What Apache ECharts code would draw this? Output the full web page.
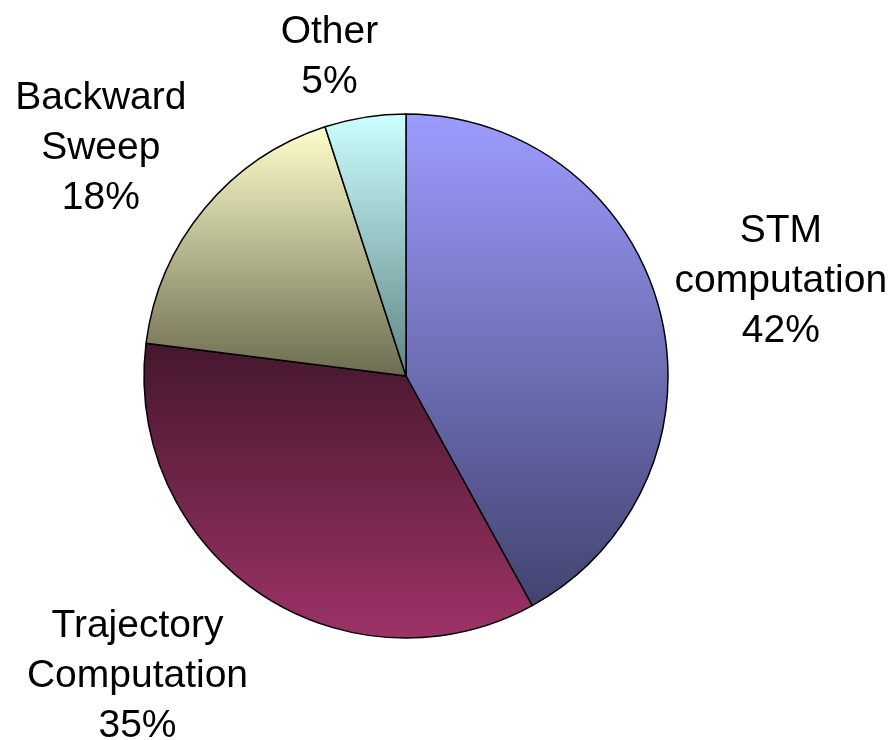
<!DOCTYPE html>
<html>
<head>
<meta charset="utf-8">
<script src="https://cdn.jsdelivr.net/npm/echarts@6/dist/echarts.min.js"></script>
<style>
  html, body { margin: 0; padding: 0; background: #fff; }
  #chart { width: 891px; height: 740px; }
</style>
</head>
<body>
<div id="chart"></div>
<script>
// Share of run time per phase (percent)
const categories = ['STM\ncomputation', 'Trajectory\nComputation', 'Backward\nSweep', 'Other'];
const shares = [42, 35, 18, 5];

// Vertical gradient per slice: [top colour, bottom colour]
const sliceColors = [
  ['#9C9CFF', '#42436F'],
  ['#45172D', '#9D3367'],
  ['#FFFFCC', '#6B6B50'],
  ['#CCFFFF', '#5E8585']
];

// Small nudges so each label sits clear of the rim
const labelNudge = [
  [0, 1],
  [-51, -20],
  [-7, 19],
  [-16, 63]
];

const center = [406, 376];

const slices = categories.map((name, i) => ({
  name: name,
  value: shares[i],
  itemStyle: {
    color: {
      type: 'linear', x: 0, y: 0, x2: 0, y2: 1,
      colorStops: [
        { offset: 0, color: sliceColors[i][0] },
        { offset: 1, color: sliceColors[i][1] }
      ]
    }
  }
}));

const chart = echarts.init(document.getElementById('chart'), null, { renderer: 'canvas' });
chart.setOption({
  animation: false,
  backgroundColor: '#ffffff',
  series: [
    {
      type: 'pie',
      center: center,
      radius: 262,
      startAngle: 90,
      clockwise: true,
      silent: true,
      data: slices,
      itemStyle: { borderColor: '#000000', borderWidth: 1.5 },
      label: { show: false },
      labelLine: { show: false }
    },
    {
      // Transparent ring that carries the category labels
      type: 'pie',
      center: center,
      radius: [374, 394],
      startAngle: 90,
      clockwise: true,
      silent: true,
      data: categories.map((name, i) => ({ name: name, value: shares[i] })),
      itemStyle: { color: 'rgba(0,0,0,0)', borderWidth: 0 },
      label: {
        show: true,
        position: 'inside',
        formatter: p => p.name + '\n' + p.value + '%',
        fontFamily: 'Liberation Sans, Arial, sans-serif',
        fontSize: 39,
        lineHeight: 50,
        color: '#000000',
        align: 'center',
        verticalAlign: 'middle'
      },
      labelLine: { show: false },
      labelLayout: p => ({ dx: labelNudge[p.dataIndex][0], dy: labelNudge[p.dataIndex][1] })
    }
  ]
});
</script>
</body>
</html>
